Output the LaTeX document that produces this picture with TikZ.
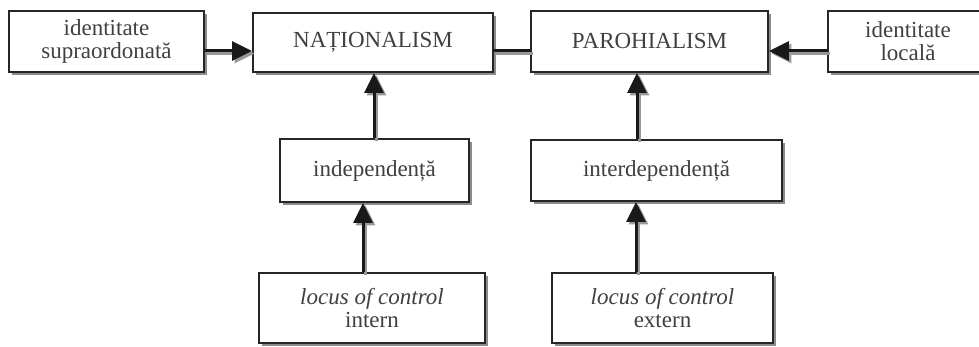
\documentclass[tikz,border=0pt]{standalone}
\usepackage{fontspec}
\setmainfont{Liberation Serif}
\usetikzlibrary{shadows,arrows.meta}
\begin{document}
\begin{tikzpicture}[x=1pt,y=-1pt,
  box/.style={draw=black!85, line width=1.8pt, fill=white, inner sep=0pt, align=center,
    text=black!75, font=\fontsize{23}{23}\selectfont,
    drop shadow={shadow xshift=3pt, shadow yshift=-3pt, fill=black!45, opacity=1}},
  arr/.style={line width=3pt, draw=black!90, -{Triangle[length=20pt,width=19pt]}},
  shd/.style={line width=3pt, draw=black!40, -{Triangle[length=20pt,width=19pt]}, transform canvas={xshift=2.5pt,yshift=-2.5pt}},
  lnk/.style={line width=3pt, draw=black!90},
  lnkshd/.style={line width=3pt, draw=black!40, transform canvas={xshift=2.5pt,yshift=-2.5pt}}]
\clip (0,0) rectangle (979,347);
\fill[white] (0,0) rectangle (979,347);
% nodes
\node[box, minimum width=195pt, minimum height=61pt] (sup) at (106.5,41.5) {identitate\\supraordonată};
\node[box, minimum width=240pt, minimum height=59pt] (nat) at (373,42.5) {NAȚIONALISM};
\node[box, minimum width=237pt, minimum height=61pt] (par) at (649.5,41.5) {PAROHIALISM};
\node[box, minimum width=160pt, minimum height=61pt] (loc) at (908,41.5) {identitate\\locală};
\node[box, minimum width=189pt, minimum height=63pt] (ind) at (374.5,170.5) {independență};
\node[box, minimum width=251pt, minimum height=61pt] (int) at (656.5,170.5) {interdependență};
\node[box, minimum width=226pt, minimum height=70pt] (lin) at (372,308) {\textit{locus of control}\\intern};
\node[box, minimum width=221pt, minimum height=70pt] (lex) at (662.5,308) {\textit{locus of control}\\extern};
% helper coordinates
\coordinate (row) at (0,51);
\coordinate (c1) at (374,0);
\coordinate (c2) at (637,0);
\coordinate (c3) at (363,0);
\coordinate (c4) at (636,0);
% shadows of connectors
\draw[shd] (sup.east |- row) -- (nat.west |- row);
\draw[shd] (loc.west |- row) -- (par.east |- row);
\draw[lnkshd] (nat.east |- row) -- (par.west |- row);
\draw[shd] (c1 |- ind.north) -- (c1 |- nat.south);
\draw[shd] (c2 |- int.north) -- (c2 |- par.south);
\draw[shd] (c3 |- lin.north) -- (c3 |- ind.south);
\draw[shd] (c4 |- lex.north) -- (c4 |- int.south);
% connectors
\draw[arr] (sup.east |- row) -- (nat.west |- row);
\draw[arr] (loc.west |- row) -- (par.east |- row);
\draw[lnk] (nat.east |- row) -- (par.west |- row);
\draw[arr] (c1 |- ind.north) -- (c1 |- nat.south);
\draw[arr] (c2 |- int.north) -- (c2 |- par.south);
\draw[arr] (c3 |- lin.north) -- (c3 |- ind.south);
\draw[arr] (c4 |- lex.north) -- (c4 |- int.south);
\end{tikzpicture}
\end{document}
